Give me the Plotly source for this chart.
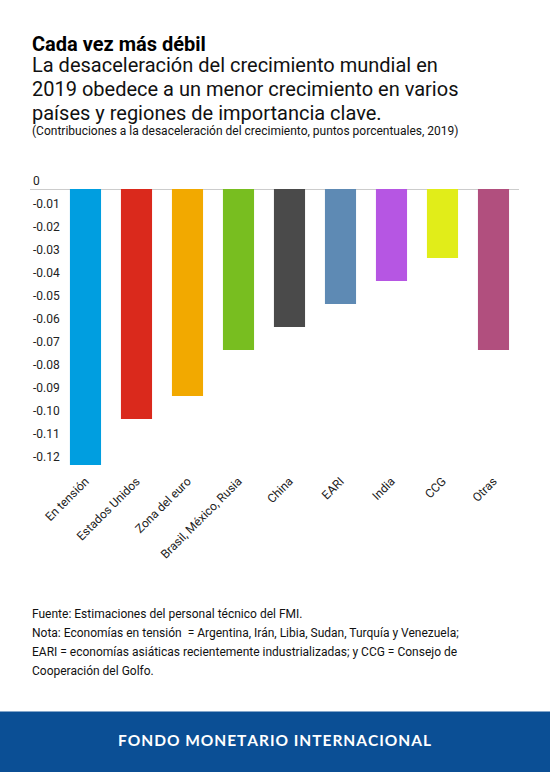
import plotly.graph_objects as go

# data
categories = ["En tensión", "Estados Unidos", "Zona del euro", "Brasil, México, Rusia",
              "China", "EARI", "India", "CCG", "Otras"]
values = [-0.12, -0.10, -0.09, -0.07, -0.06, -0.05, -0.04, -0.03, -0.07]
colors = ["#009ee0", "#da291c", "#f2a900", "#78be20", "#4a4a4a",
          "#5e8ab4", "#b656e3", "#e1ed19", "#b14f7e"]
ytick_vals = [0, -0.01, -0.02, -0.03, -0.04, -0.05, -0.06, -0.07, -0.08, -0.09, -0.10, -0.11, -0.12]
ytick_text = ["0"] + ["%.2f" % v for v in ytick_vals[1:]]

title = "Cada vez más débil"
subtitle = ["La desaceleración del crecimiento mundial en",
            "2019 obedece a un menor crecimiento en varios",
            "países y regiones de importancia clave."]
units = "(Contribuciones a la desaceleración del crecimiento, puntos porcentuales, 2019)"
notes = ["Fuente: Estimaciones del personal técnico del FMI.",
         "Nota: Economías en tensión  = Argentina, Irán, Libia, Sudan, Turquía y Venezuela;",
         "EARI = economías asiáticas recientemente industrializadas; y CCG = Consejo de",
         "Cooperación del Golfo."]
banner = "FONDO MONETARIO INTERNACIONAL"

W, H = 550, 772
y_top = 0.007  # headroom so the "0" label is drawn
zero_px, bottom_px = 189.3, 465.3
L, R = 30, 31
B = H - bottom_px
T = zero_px - y_top / 0.12 * (bottom_px - zero_px)
plot_h = H - T - B
plot_w = W - L - R


def py(p):
    # page pixel y -> paper y
    return (H - B - p) / plot_h


def px(p):
    return (p - L) / plot_w


fig = go.Figure(go.Bar(
    x=categories, y=values, marker=dict(color=colors, line=dict(width=0)),
    width=0.61, hoverinfo="x+y",
))

ann = [dict(text="<b>%s</b>" % title, x=0, y=py(44), font=dict(size=20, color="#000"))]
for i, line in enumerate(subtitle):
    ann.append(dict(text=line, x=0, y=py(65.5 + 23.7 * i), font=dict(size=20, color="#111")))
ann.append(dict(text=units, x=0, y=py(131.5), font=dict(size=12, color="#111")))
for i, line in enumerate(notes):
    ann.append(dict(text=line, x=0, y=py(614 + 19 * i), font=dict(size=12, color="#111")))
for a in ann:
    a.update(xref="paper", yref="paper", xanchor="left", yanchor="middle",
             showarrow=False, font_family="Roboto")
ann.append(dict(text="<b>%s</b>" % "\u200a".join(banner), xref="paper", yref="paper",
                x=px(W / 2 - 0.5), y=py(740), xanchor="center", yanchor="middle",
                showarrow=False, font=dict(family="Lato", size=15.5, color="white")))

fig.update_layout(
    width=W, height=H,
    margin=dict(l=L, r=R, t=T, b=B),
    paper_bgcolor="white", plot_bgcolor="white",
    font=dict(family="Roboto", size=12, color="#222"),
    showlegend=False,
    xaxis=dict(range=[-1.088, 8.5], tickangle=-45, showgrid=False, zeroline=False,
               ticklabelstandoff=6,
               showline=False, ticks="", tickfont=dict(size=12, color="#222")),
    yaxis=dict(range=[-0.12, y_top], tickvals=ytick_vals, ticktext=ytick_text,
               ticklabelposition="inside top", showgrid=False, zeroline=True,
               zerolinecolor="#cccccc", zerolinewidth=1, showline=False, ticks="",
               tickfont=dict(size=12, color="#222")),
    annotations=ann,
    shapes=[dict(type="rect", xref="paper", yref="paper", x0=px(0), x1=px(W),
                 y0=py(712), y1=py(H + 2), fillcolor="#0b4f95", line=dict(width=0),
                 layer="below")],
)

fig.write_html("out.html", config={"displayModeBar": False},
               post_script="document.body.style.margin='0';")
